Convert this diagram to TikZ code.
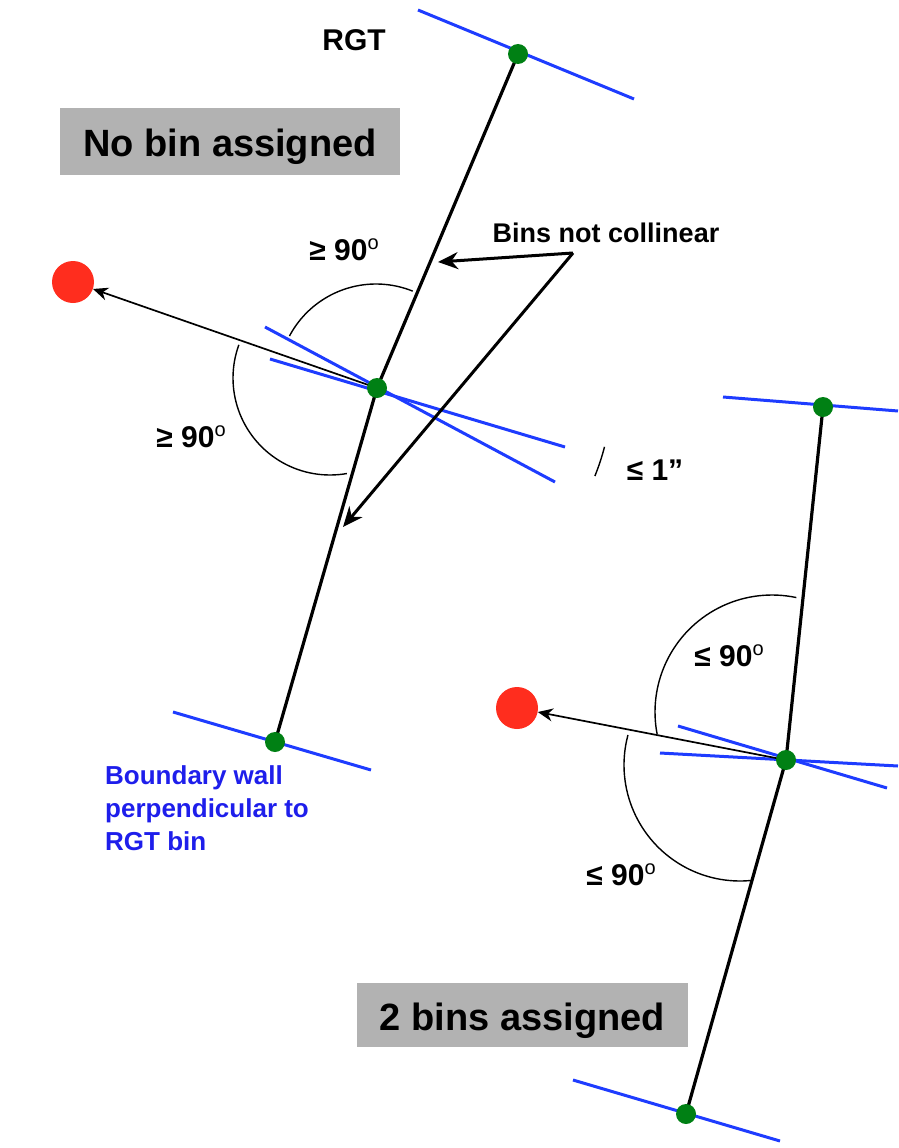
\documentclass[tikz,border=0pt]{standalone}
\usepackage{fontspec}
\setmainfont{Liberation Sans}
\usetikzlibrary{arrows.meta}
\definecolor{wallblue}{RGB}{30,60,255}
\definecolor{textblue}{RGB}{30,30,235}
\definecolor{dotgreen}{RGB}{0,128,20}
\definecolor{dotred}{RGB}{255,45,30}
\definecolor{boxgray}{RGB}{178,178,178}
\pgfdeclarelayer{bg}
\pgfsetlayers{bg,main}
\newcommand{\mysupo}{\raisebox{11pt}{\fontsize{20}{20}\selectfont\mdseries o}}
\begin{document}
\begin{tikzpicture}[x=1pt,y=-1pt,
  gdot/.style={circle,fill=dotgreen,inner sep=0pt,minimum size=20pt},
  rdot/.style={circle,fill=dotred,inner sep=0pt,minimum size=42pt},
  wall/.style={wallblue,line width=3pt},
  bin/.style={black,line width=3.2pt},
  arcline/.style={black,line width=1.4pt},
  ptr/.style={-{Stealth[length=15pt,width=13pt]},line width=1.7pt},
  callout/.style={-{Stealth[length=20pt,width=17pt]},line width=3pt,line join=miter},
  lbl/.style={font=\fontsize{30}{34}\selectfont\bfseries,inner sep=0pt},
  graybox/.style={fill=boxgray,inner sep=0pt,text height=30pt,text depth=0pt,font=\fontsize{38}{42}\selectfont\bfseries}
]
\useasboundingbox (0,0) rectangle (898,1148);

% ---------- left diagram ----------
\node[gdot] (t1) at (518,54) {};
\node[gdot] (m1) at (377,388) {};
\node[gdot] (b1) at (275,742) {};
\node[rdot] (r1) at (73,282) {};
\coordinate (wt1a) at (418,10);  \coordinate (wt1b) at (634,99);
\coordinate (wb1a) at (173,712); \coordinate (wb1b) at (371,770);
\coordinate (wma) at (265,327);  \coordinate (wmb) at (555,482);
\coordinate (wmc) at (270,359);  \coordinate (wmd) at (565,447);

% ---------- right diagram ----------
\node[gdot] (t2) at (823,407) {};
\node[gdot] (m2) at (786,760) {};
\node[gdot] (b2) at (686,1114) {};
\node[rdot] (r2) at (517,708) {};
\coordinate (wt2a) at (723,397); \coordinate (wt2b) at (898,411);
\coordinate (wb2a) at (573,1080); \coordinate (wb2b) at (780,1141);
\coordinate (wm2a) at (678,726); \coordinate (wm2b) at (887,788);
\coordinate (wm2c) at (660,753); \coordinate (wm2d) at (898,766);

\begin{pgfonlayer}{bg}
  \draw[wall] (wt1a) -- (wt1b);
  \draw[wall] (wb1a) -- (wb1b);
  \draw[wall] (wma) -- (wmb);
  \draw[wall] (wmc) -- (wmd);
  \draw[bin] (t1.center) -- (m1.center) -- (b1.center);
  \draw[ptr] (m1.center) -- (r1);
  \draw[wall] (wt2a) -- (wt2b);
  \draw[wall] (wb2a) -- (wb2b);
  \draw[wall] (wm2a) -- (wm2b);
  \draw[wall] (wm2c) -- (wm2d);
  \draw[bin] (t2.center) -- (m2.center) -- (b2.center);
  \draw[ptr] (m2.center) -- (r2);
\end{pgfonlayer}

% angle arcs
\draw[arcline] plot[domain=68:152,samples=50] ({376+98*cos(\x)},{382-98*sin(\x)});
\draw[arcline] plot[domain=160:280,samples=50] ({330+97*cos(\x)},{378-97*sin(\x)});
\draw[arcline] plot[domain=-22:-14.5,samples=10] ({377+235*cos(\x)},{388-235*sin(\x)});
\draw[arcline] plot[domain=78:191,samples=50] ({772+117*cos(\x)},{712-117*sin(\x)});
\draw[arcline] plot[domain=165:276,samples=50] ({740+116*cos(\x)},{765-116*sin(\x)});

% callout arrows
\coordinate (cv) at (573,253);
\coordinate (ctip1) at (438,262);
\coordinate (ctip2) at (343,527);
\draw[callout] (cv) -- (ctip1);
\draw[callout] (cv) -- (ctip2);
\node[lbl,font=\fontsize{27}{30}\selectfont\bfseries] (bnc) at (606,233) {Bins not collinear};

% labels
\node[lbl,font=\fontsize{30}{34}\selectfont\bfseries] (rgt) at (354,40) {RGT};
\node[lbl] (g1) at (344,250) {≥ 90\mysupo};
\node[lbl] (g2) at (191,437) {≥ 90\mysupo};
\node[lbl] (l1) at (655,470) {≤ 1”};
\node[lbl] (l2) at (729,656) {≤ 90\mysupo};
\node[lbl] (l3) at (621,875) {≤ 90\mysupo};
\node[anchor=north west,align=left,inner sep=0pt,text=textblue,
      font=\fontsize{26}{33}\selectfont\bfseries] (bw) at (105,765)
  {Boundary wall\\perpendicular to\\RGT bin};

% gray boxes
\node[graybox,minimum width=340pt,minimum height=67pt] (nb) at (230,141.5) {No bin assigned};
\node[graybox,minimum width=331pt,minimum height=64pt] (tb) at (522.5,1015) {2 bins assigned};
\end{tikzpicture}
\end{document}
